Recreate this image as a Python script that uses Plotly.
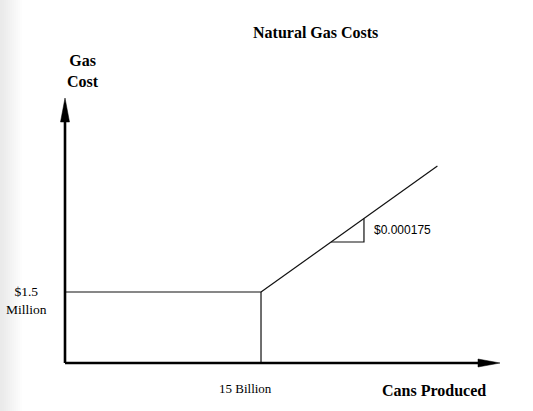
import plotly.graph_objects as go

# ---- data (x in billions of cans, y in millions of dollars) ----
cost_x = [15, 28.5]
cost_y = [1.5, 4.16]
kink_x = 15
kink_y = 1.5
slope_x = [20.36, 22.88]
slope_label = "$0.000175"
x_tick_vals = [15]
x_tick_text = ["15 Billion"]
y_tick_vals = [1.5]
y_tick_text = ["$1.5<br>Million"]
title_text = "Natural Gas Costs"
x_title = "Cans Produced"
y_title = "Gas<br>Cost"

W, H = 533, 411
ML, MR, MT, MB = 65, 33, 98, 48
PW, PH = W - ML - MR, H - MT - MB
XMAX = PW / 13.067
YMAX = PH / 47.33

slope = (cost_y[1] - cost_y[0]) / (cost_x[1] - cost_x[0])
tri_y = [cost_y[0] + (sx - cost_x[0]) * slope for sx in slope_x]

serif = "Liberation Serif, Times New Roman, serif"
sans = "Liberation Sans, Arial, sans-serif"

fig = go.Figure()
line_style = dict(color="#111111", width=1.2)
# main cost line (flat then rising)
fig.add_trace(go.Scatter(x=[cost_x[0], cost_x[1]], y=[cost_y[0], cost_y[1]],
                         mode="lines", line=line_style, hoverinfo="skip"))
# guide lines to axes
fig.add_trace(go.Scatter(x=[-0.3, kink_x, kink_x], y=[kink_y, kink_y, -0.1],
                         mode="lines", line=line_style, hoverinfo="skip", cliponaxis=False))
# slope triangle
fig.add_trace(go.Scatter(x=[slope_x[0], slope_x[1], slope_x[1]],
                         y=[tri_y[0], tri_y[0], tri_y[1]],
                         mode="lines", line=line_style, hoverinfo="skip"))

shapes = []
# left-edge gray gradient
for i in range(11):
    g = 234 + int(i * 21 / 11)
    shapes.append(dict(type="rect", xref="paper", yref="paper",
                       x0=(-ML + i * 2) / PW, x1=(-ML + i * 2 + 2) / PW,
                       y0=-MB / PH, y1=(PH + MT) / PH,
                       fillcolor=f"rgb({g},{g},{g})", line=dict(width=0), layer="below"))
# axes with arrowheads
ahx, awx = 22 / PW, 4 / PH
ahy, awy = 24 / PH, 4.5 / PW
shapes.append(dict(type="line", xref="paper", yref="paper", x0=0, y0=0, x1=1 - ahx, y1=0,
                   line=dict(color="black", width=2.6)))
shapes.append(dict(type="path", xref="paper", yref="paper",
                   path=f"M {1 - ahx},{-awx} L 1,0 L {1 - ahx},{awx} Z",
                   fillcolor="black", line=dict(color="black", width=0.5)))
shapes.append(dict(type="line", xref="paper", yref="paper", x0=0, y0=0, x1=0, y1=1 - ahy,
                   line=dict(color="black", width=2.6)))
shapes.append(dict(type="path", xref="paper", yref="paper",
                   path=f"M {-awy},{1 - ahy} L 0,1 L {awy},{1 - ahy} Z",
                   fillcolor="black", line=dict(color="black", width=0.5)))

annotations = []
for xv, xt in zip(x_tick_vals, x_tick_text):
    annotations.append(dict(x=xv, y=0, xref="x", yref="y", text=xt, showarrow=False,
                            yanchor="middle", yshift=-25, xshift=-16,
                            font=dict(family=serif, size=13, color="black")))
for yv, yt in zip(y_tick_vals, y_tick_text):
    annotations.append(dict(x=0, y=yv, xref="x", yref="y", text=yt, showarrow=False,
                            xanchor="center", xshift=-39, yshift=-8, align="center",
                            font=dict(family=serif, size=13.5, color="black")))
annotations.append(dict(x=slope_x[1], y=(tri_y[0] + tri_y[1]) / 2, xref="x", yref="y",
                        text=slope_label, showarrow=False, xanchor="left", xshift=8,
                        font=dict(family=sans, size=12, color="black")))
annotations.append(dict(x=(315 - ML) / PW, y=(H - 32 - MB) / PH, xref="paper", yref="paper",
                        text=f"<b>{title_text}</b>", showarrow=False, yanchor="middle",
                        font=dict(family=serif, size=16, color="black")))
annotations.append(dict(x=0, y=(H - 71 - MB) / PH, xref="paper", yref="paper",
                        text=f"<b>{y_title}</b>", showarrow=False, yanchor="middle",
                        font=dict(family=serif, size=16, color="black")))
annotations.append(dict(x=(488 - ML) / PW, y=(H - 390 - MB) / PH, xref="paper", yref="paper",
                        text=f"<b>{x_title}</b>", showarrow=False, xanchor="right",
                        yanchor="middle",
                        font=dict(family=serif, size=16, color="black")))

fig.update_layout(
    width=W, height=H, margin=dict(l=ML, r=MR, t=MT, b=MB),
    paper_bgcolor="white", plot_bgcolor="white", showlegend=False,
    xaxis=dict(range=[0, XMAX], visible=False, fixedrange=True),
    yaxis=dict(range=[0, YMAX], visible=False, fixedrange=True),
    shapes=shapes, annotations=annotations,
)
fig.write_html("out.html", config={"displayModeBar": False},
               post_script="document.body.style.margin='0px';document.body.style.padding='0px';")
